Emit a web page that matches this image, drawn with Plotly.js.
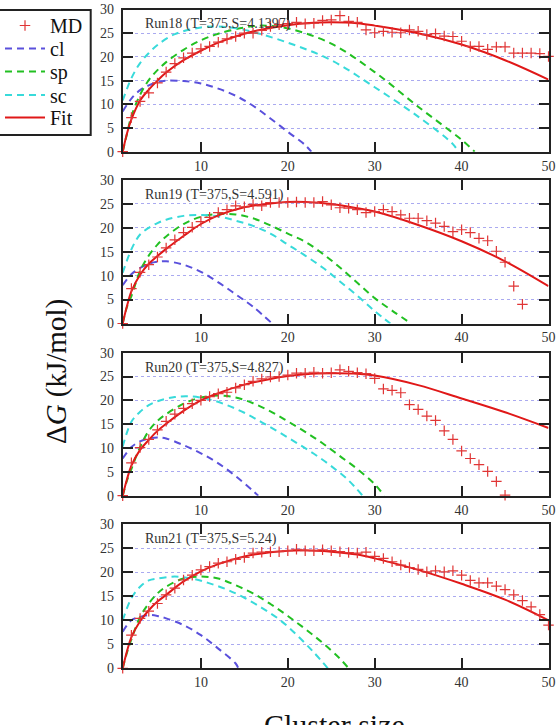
<!DOCTYPE html>
<html>
<head>
<meta charset="utf-8">
<script src="https://cdn.plot.ly/plotly-3.0.1.min.js"></script>
<style>
  html, body { margin: 0; padding: 0; background: #fff; }
  #chart { width: 558px; height: 725px; }
</style>
</head>
<body>
<div id="chart"></div>
<script>
// ---------- data ----------
const seriesNames = ["MD", "cl", "sp", "sc", "Fit"];
const runLabels = ["Run18 (T=375,S=4.1397)", "Run19 (T=375,S=4.591)", "Run20 (T=375,S=4.827)", "Run21 (T=375,S=5.24)"];
const xTicks = [10, 20, 30, 40, 50];
const yTicks = [0, 5, 10, 15, 20, 25, 30];

// Run18
const md18 = [0,7.2,10.6,12.4,14.5,16.8,18.6,19.8,20.8,21.7,22.2,23.1,23.8,24.3,25.0,25.0,25.6,26.4,26.8,27.0,27.3,27.0,27.1,27.7,27.8,28.7,27.5,27.3,25.7,25.1,25.4,25.2,25.1,25.7,25.4,24.7,24.9,24.4,24.3,23.3,22.2,22.2,21.6,22.1,22.1,20.8,20.8,20.8,20.7,20.1];
const fit18X = [1,1.5,2,3,4,5,6,8,10,12,15,18,20,22,25,28,30,35,40,45,50];
const fit18Y = [0,3.9,6.8,10.8,13.1,15.0,16.7,19.3,21.3,23.0,24.9,26.1,26.7,27.1,27.3,27.1,26.6,25.0,22.6,19.3,15.2];
const cl18X = [1,2,3,4,5,6,8,10,12,14,16,18,20,22,22.7];
const cl18Y = [8.5,11.2,13.0,14.0,14.7,15.0,14.9,14.4,13.3,11.8,9.7,7.0,4.2,1.4,0];
const sp18X = [1,1.5,2,3,4,5,6,8,10,12,15,17,20,25,30,35,40,41.5];
const sp18Y = [0,3.8,7.5,12.0,15.1,17.2,18.9,21.5,23.5,24.9,26.2,26.6,26.0,22.8,16.8,9.5,2.5,0];
const sc18X = [1,2,3,4,5,7,10,12,15,20,25,30,35,39,39.6];
const sc18Y = [10.8,15.5,18.7,20.8,22.5,24.8,26.2,26.4,25.7,23.0,19.3,13.6,7.4,1.6,0];

// Run19
const md19 = [0,7.3,10.7,12.3,13.9,15.8,17.5,19.0,20.1,21.3,22.2,23.2,23.8,24.6,24.4,24.9,24.6,25.3,25.3,25.3,25.4,25.3,25.3,25.5,24.8,24.2,24.1,23.8,23.2,23.4,23.8,23.4,22.7,22.0,22.0,21.5,21.0,20.3,19.2,19.6,19.0,17.8,17.3,15.1,12.8,7.8,4.0];
const fit19X = [1,1.5,2,3,4,5,6,8,10,12,15,18,20,22,25,28,30,35,40,45,50];
const fit19Y = [0,3.7,6.7,10.2,12.5,14.1,15.6,18.3,20.8,22.6,24.3,25.1,25.4,25.4,25.0,24.1,23.4,20.6,17.2,13.0,7.8];
const cl19X = [1,2,3,4,5,6,8,10,12,14,16,18.2];
const cl19Y = [8.0,10.3,11.6,12.5,12.9,13.0,12.3,10.8,8.6,6.1,3.5,0];
const sp19X = [1,1.5,2,3,4,5,6,8,10,12,14,16,18,20,22,24,26,28,30,32,34.2];
const sp19Y = [0,3.5,5.7,11.0,14.2,16.5,18.2,20.8,22.3,22.9,22.8,22.0,20.5,18.8,17.1,14.6,11.7,8.5,5.3,2.7,0];
const sc19X = [1,2,3,4,5,6,8,10,12,14,16,18,20,22,24,26,28,30,31.8];
const sc19Y = [10.6,15.5,18.6,20.0,21.0,21.7,22.5,22.7,22.4,21.5,20.4,18.8,16.5,14.2,11.7,8.8,5.8,2.6,0];

// Run20
const md20 = [0,6.9,10.1,11.8,13.8,15.6,17.1,18.3,19.3,20.0,20.8,21.4,21.7,22.6,23.3,24.0,24.5,24.9,25.0,25.3,25.7,25.7,25.9,25.7,25.8,26.4,26.1,25.8,25.6,24.6,22.4,22.1,21.6,19.1,18.1,16.7,15.8,13.6,11.8,9.4,7.8,6.5,5.1,3.0,0.1];
const fit20X = [1,1.5,2,3,4,5,6,8,10,12,15,18,20,22,25,28,30,35,40,45,50];
const fit20Y = [0,3.5,6.3,9.6,11.7,13.6,15.1,17.8,20.0,21.5,23.3,24.5,25.1,25.5,25.7,25.6,25.2,23.2,20.4,17.5,14.2];
const cl20X = [1,2,3,4,5,6,8,10,12,14,16,16.6];
const cl20Y = [7.8,10.2,11.4,12.0,12.2,12.0,10.6,8.9,6.8,4.1,1.0,0];
const sp20X = [1,1.5,2,3,4,5,6,8,10,12,14,16,18,20,22,24,26,28,30,31.1];
const sp20Y = [0,3.2,5.6,10.2,13.6,15.7,17.1,19.3,20.6,21.0,20.6,19.4,17.7,15.6,13.4,11.0,8.3,5.6,2.4,0];
const sc20X = [1,2,3,4,5,7,9,11,13,15,17,19,21,23,25,27,28.6];
const sc20Y = [10.3,15.5,17.6,19.0,19.8,20.7,20.8,20.2,19.0,17.4,15.4,13.3,11.1,8.8,6.2,3.2,0];

// Run21
const md21 = [0,6.9,10.4,11.9,13.5,15.3,16.7,18.4,19.4,20.5,21.2,21.9,22.2,22.7,23.1,24.0,24.2,24.3,24.3,24.5,24.8,24.5,24.5,24.7,24.5,24.3,24.1,24.0,24.2,23.3,22.9,22.2,21.5,21.0,20.6,20.1,20.3,20.1,20.3,19.4,18.3,17.8,17.8,17.1,16.4,15.3,14.1,12.8,11.2,9.0];
const fit21X = [1,1.5,2,3,4,5,6,8,10,12,15,18,20,22,25,28,30,35,40,45,50];
const fit21Y = [0,3.6,6.5,9.8,12.1,13.9,15.3,18.1,20.2,21.7,23.3,24.2,24.5,24.6,24.3,23.7,22.9,20.5,17.6,14.3,10.0];
const cl21X = [1,2,3,4,5,6,8,10,12,14,14.3];
const cl21Y = [7.6,10.0,10.7,11.1,10.9,10.4,9.0,6.9,4.1,1.0,0];
const sp21X = [1,1.5,2,3,4,5,6,8,10,12,14,16,18,20,22,24,26,27];
const sp21Y = [0,3.3,6.0,10.7,13.5,15.6,17.0,18.7,19.1,18.7,17.3,15.6,13.4,10.9,8.2,5.3,2.0,0];
const sc21X = [1,2,3,4,5,7,9,11,13,15,17,19,21,23,24.6];
const sc21Y = [10.0,14.6,17.0,18.3,18.7,19.1,18.7,17.7,16.4,14.7,12.6,10.2,7.0,3.3,0];

// ---------- build figure ----------
const panels = [
  {md: md18, fitX: fit18X, fitY: fit18Y, clX: cl18X, clY: cl18Y, spX: sp18X, spY: sp18Y, scX: sc18X, scY: sc18Y},
  {md: md19, fitX: fit19X, fitY: fit19Y, clX: cl19X, clY: cl19Y, spX: sp19X, spY: sp19Y, scX: sc19X, scY: sc19Y},
  {md: md20, fitX: fit20X, fitY: fit20Y, clX: cl20X, clY: cl20Y, spX: sp20X, spY: sp20Y, scX: sc20X, scY: sc20Y},
  {md: md21, fitX: fit21X, fitY: fit21Y, clX: cl21X, clY: cl21Y, spX: sp21X, spY: sp21Y, scX: sc21X, scY: sc21Y}
];

const W = 558, H = 725;
const plotLeft = 122.7, plotRight = 548.5;
const panelPx = [[9.5, 151.7], [180, 323.5], [352.7, 495.7], [524.3, 668.3]];
// legend entry centres (px from top) and legend ids: MD, cl, sp, sc, Fit
const legendIds = ['legend', 'legend2', 'legend3', 'legend4', 'legend5'];
const legendRowPx = [25.5, 48.5, 71.5, 95, 117.5];

const colMD = '#e03535', colCl = '#5a50dc', colSp = '#22c022', colSc = '#38dada', colFit = '#e01818';
const serif = 'Liberation Serif';
const dashPat = '7px,5px';

const traces = [];
const layout = {
  width: W, height: H,
  margin: {l: 0, r: 0, t: 0, b: 0},
  paper_bgcolor: '#fff', plot_bgcolor: '#fff',
  font: {family: serif, color: '#222'},
  showlegend: true,
  annotations: [],
  shapes: [{
    type: 'rect', xref: 'paper', yref: 'paper',
    x0: -2 / W, x1: 90.7 / W, y0: 1 - 135 / H, y1: 1 - 10 / H,
    line: {color: '#222', width: 2}, fillcolor: 'rgba(0,0,0,0)', layer: 'above'
  }]
};
legendIds.forEach((id, j) => {
  layout[id] = {
    x: 0, y: 1 - legendRowPx[j] / H, xanchor: 'left', yanchor: 'middle',
    bgcolor: 'rgba(0,0,0,0)', borderwidth: 0,
    font: {family: serif, size: 20, color: '#111'},
    itemwidth: 40
  };
});

panels.forEach((p, i) => {
  const k = i === 0 ? '' : String(i + 1);
  const xa = 'x' + k, ya = 'y' + k;
  const show = i === 0;
  const mdX = p.md.map((_, j) => j + 1);

  traces.push({x: p.clX, y: p.clY, xaxis: xa, yaxis: ya, type: 'scatter', mode: 'lines', name: seriesNames[1], legend: legendIds[1], showlegend: show,
    line: {color: colCl, width: 2, dash: dashPat, shape: 'spline', smoothing: 1}});
  traces.push({x: p.spX, y: p.spY, xaxis: xa, yaxis: ya, type: 'scatter', mode: 'lines', name: seriesNames[2], legend: legendIds[2], showlegend: show,
    line: {color: colSp, width: 2, dash: dashPat, shape: 'spline', smoothing: 1}});
  traces.push({x: p.scX, y: p.scY, xaxis: xa, yaxis: ya, type: 'scatter', mode: 'lines', name: seriesNames[3], legend: legendIds[3], showlegend: show,
    line: {color: colSc, width: 2, dash: dashPat, shape: 'spline', smoothing: 1}});
  traces.push({x: p.fitX, y: p.fitY, xaxis: xa, yaxis: ya, type: 'scatter', mode: 'lines', name: seriesNames[4], legend: legendIds[4], showlegend: show,
    line: {color: colFit, width: 2, shape: 'spline', smoothing: 1}});
  traces.push({x: mdX, y: p.md, xaxis: xa, yaxis: ya, type: 'scatter', mode: 'markers', name: seriesNames[0], legend: legendIds[0], showlegend: show,
    cliponaxis: false,
    marker: {symbol: 'cross-thin', size: 7.5, color: colMD, line: {color: colMD, width: 1.2}}});

  const [top, bot] = panelPx[i];
  layout['xaxis' + k] = {
    domain: [plotLeft / W, plotRight / W], anchor: ya,
    range: [1, 50], tickvals: xTicks, ticktext: xTicks.map(String),
    ticks: 'inside', ticklen: 10, tickwidth: 2, tickcolor: '#222',
    showline: true, linewidth: 2, linecolor: '#222', mirror: 'allticks',
    showgrid: false, zeroline: false,
    tickfont: {family: serif, size: 14, color: '#333'}, ticklabelstandoff: 0
  };
  layout['yaxis' + k] = {
    domain: [1 - bot / H, 1 - top / H], anchor: xa,
    range: [0, 30], tickvals: yTicks, ticktext: yTicks.map(String),
    ticks: 'inside', ticklen: 10, tickwidth: 2, tickcolor: '#222',
    showline: true, linewidth: 2, linecolor: '#222', mirror: 'allticks',
    showgrid: true, gridcolor: '#aaaaf0', gridwidth: 1, griddash: 'dot',
    zeroline: false,
    tickfont: {family: serif, size: 14, color: '#333'}, ticklabelstandoff: 4
  };
  layout.annotations.push({
    text: runLabels[i], xref: xa + ' domain', yref: ya + ' domain',
    x: 0.048, y: 0.895, xanchor: 'left', yanchor: 'middle', showarrow: false,
    font: {family: serif, size: 14, color: '#333'}
  });
});

// axis titles as annotations (shared across panels)
layout.annotations.push({
  text: 'Δ<i>G</i> (kJ/mol)', xref: 'paper', yref: 'paper',
  x: 56 / W, y: 1 - 372 / H, xanchor: 'center', yanchor: 'middle',
  textangle: -90, showarrow: false,
  font: {family: serif, size: 29, color: '#111'}
});
layout.annotations.push({
  text: 'Cluster size', xref: 'paper', yref: 'paper',
  x: 335 / W, y: 1 - 706 / H, xanchor: 'center', yanchor: 'top',
  showarrow: false,
  font: {family: serif, size: 30, color: '#111'}
});

Plotly.newPlot('chart', traces, layout, {staticPlot: true, displayModeBar: false});
</script>
</body>
</html>
